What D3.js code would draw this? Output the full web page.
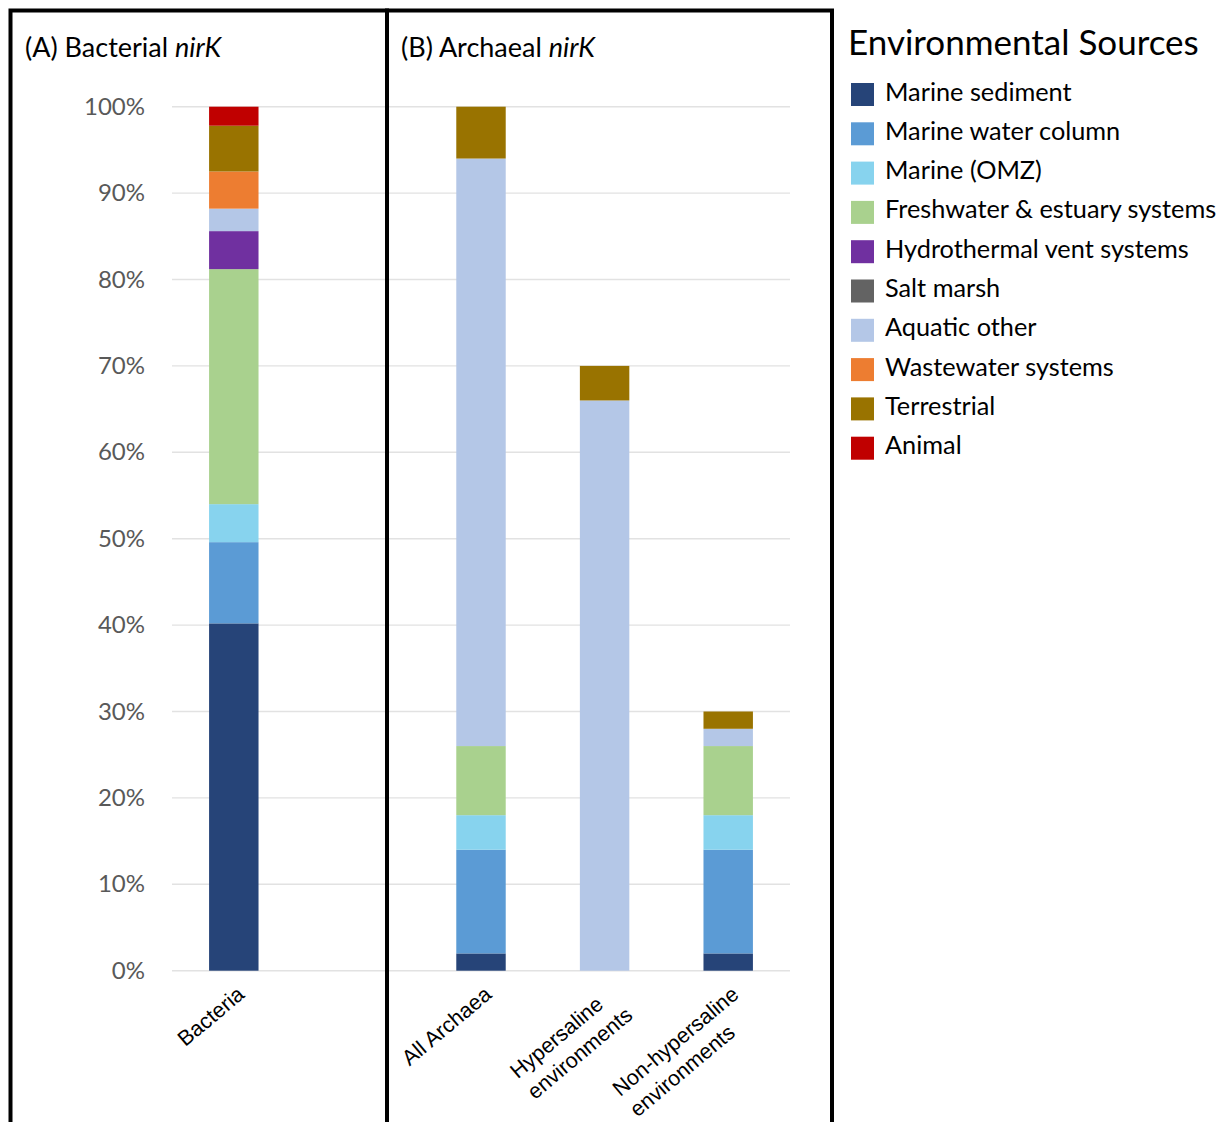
<!DOCTYPE html>
<html>
<head>
<meta charset="utf-8">
<script src="https://cdn.jsdelivr.net/npm/d3@7"></script>
<style>
  html, body { margin: 0; padding: 0; background: #fff; }
  svg { display: block; }
</style>
</head>
<body>
<svg id="chart" width="1218" height="1122"></svg>
<script>
// Categories along the x axis (one empty slot separates the two panels)
const categories = ["Bacteria", "gap", "All Archaea", "Hypersaline", "Non-hypersaline"];
const categoryLabels = [["Bacteria"], [], ["All Archaea"], ["Hypersaline", "environments"], ["Non-hypersaline", "environments"]];

// Environmental sources (stack order, bottom to top)
const sources = [
  "Marine sediment", "Marine water column", "Marine (OMZ)", "Freshwater & estuary systems",
  "Hydrothermal vent systems", "Salt marsh", "Aquatic other", "Wastewater systems",
  "Terrestrial", "Animal"
];
const sourceColors = [
  "#264478", "#5b9bd5", "#87d3ee", "#a9d18e",
  "#7030a0", "#636363", "#b4c7e7", "#ed7d31",
  "#997300", "#c00000"
];

// Percent of sequences per source, one value per category
const marineSediment    = [40.2, 0, 2, 0, 2];
const marineWaterColumn = [9.4, 0, 12, 0, 12];
const marineOMZ         = [4.4, 0, 4, 0, 4];
const freshwater        = [27.2, 0, 8, 0, 8];
const hydrothermal      = [4.4, 0, 0, 0, 0];
const saltMarsh         = [0, 0, 0, 0, 0];
const aquaticOther      = [2.6, 0, 68, 66, 2];
const wastewater        = [4.3, 0, 0, 0, 0];
const terrestrial       = [5.3, 0, 6, 4, 2];
const animal            = [2.2, 0, 0, 0, 0];

const yTicks = [0, 10, 20, 30, 40, 50, 60, 70, 80, 90, 100];

const seriesValues = [marineSediment, marineWaterColumn, marineOMZ, freshwater,
  hydrothermal, saltMarsh, aquaticOther, wastewater, terrestrial, animal];

const rows = categories.map((c, i) => {
  const r = { category: c };
  sources.forEach((s, k) => { r[s] = seriesValues[k][i]; });
  return r;
});

const svg = d3.select("#chart");
const sansUI = "Lato, 'Open Sans', sans-serif";
const sansAx = "'Liberation Sans', Arial, sans-serif";

const plot = { left: 172, right: 790, top: 106.7, bottom: 970.7 };

const x = d3.scaleBand()
  .domain(categories)
  .range([plot.left, plot.right])
  .paddingInner(0.6)
  .paddingOuter(0.3);

const y = d3.scaleLinear()
  .domain([0, 100])
  .range([plot.bottom, plot.top]);

// Gridlines
svg.append("g")
  .selectAll("line")
  .data(yTicks)
  .join("line")
  .attr("x1", plot.left)
  .attr("x2", plot.right)
  .attr("y1", d => y(d))
  .attr("y2", d => y(d))
  .attr("stroke", "#e2e2e2")
  .attr("stroke-width", 1.4);

// Y axis labels
const yAxis = d3.axisLeft(y)
  .tickValues(yTicks)
  .tickFormat(d => d + "%")
  .tickSize(0)
  .tickPadding(0);
const yAxisG = svg.append("g")
  .attr("transform", "translate(145,0)")
  .call(yAxis);
yAxisG.select(".domain").remove();
yAxisG.selectAll("text")
  .attr("font-family", sansUI)
  .attr("font-size", 24)
  .attr("fill", "#595959");

// Stacked bars
const stacked = d3.stack().keys(sources)(rows);
svg.append("g")
  .selectAll("g")
  .data(stacked)
  .join("g")
  .attr("fill", (d, i) => sourceColors[i])
  .selectAll("rect")
  .data(d => d)
  .join("rect")
  .attr("x", d => x(d.data.category))
  .attr("width", x.bandwidth())
  .attr("y", d => y(d[1]))
  .attr("height", d => y(d[0]) - y(d[1]));

// Rotated category labels: lines start-aligned, block's top-right corner near the tick
const labelSize = 21.5;
const lineH = 27;
const labelAngle = -40;
const labelG = svg.append("g")
  .attr("font-family", sansAx)
  .attr("font-size", labelSize)
  .attr("fill", "#000");
categories.forEach((c, i) => {
  const lines = categoryLabels[i];
  if (!lines.length) return;
  const cx = x(c) + x.bandwidth() / 2;
  const g = labelG.append("g")
    .attr("transform", `translate(${cx + 2},${plot.bottom + 14}) rotate(${labelAngle})`);
  const t = g.append("text").attr("text-anchor", "start");
  lines.forEach((ln, k) => {
    t.append("tspan").attr("x", 0).attr("y", k * lineH + labelSize * 0.72).text(ln);
  });
  const w = t.node().getBBox().width;
  t.attr("transform", `translate(${-w},0)`);
});

// Panel frames
const frame = svg.append("g")
  .attr("fill", "none")
  .attr("stroke", "#000")
  .attr("stroke-width", 4);
frame.append("rect").attr("x", 10.5).attr("y", 10.5).attr("width", 376.5).attr("height", 1140);
frame.append("rect").attr("x", 387).attr("y", 10.5).attr("width", 445).attr("height", 1140);

// Panel titles
const titles = [{ x: 25, pre: "(A) Bacterial " }, { x: 401, pre: "(B) Archaeal " }];
titles.forEach(tl => {
  const t = svg.append("text")
    .attr("x", tl.x)
    .attr("y", 57)
    .attr("font-family", sansUI)
    .attr("font-size", 27)
    .attr("fill", "#000");
  t.append("tspan").text(tl.pre);
  t.append("tspan").attr("font-style", "italic").text("nirK");
});

// Legend
const legend = svg.append("g").attr("transform", "translate(848,0)");
legend.append("text")
  .attr("x", 0)
  .attr("y", 55)
  .attr("font-family", sansUI)
  .attr("font-size", 35)
  .attr("fill", "#000")
  .text("Environmental Sources");
const item = legend.selectAll("g.item")
  .data(sources)
  .join("g")
  .attr("class", "item")
  .attr("transform", (d, i) => `translate(0,${94.5 + i * 39.3})`);
item.append("rect")
  .attr("x", 3)
  .attr("y", -11.5)
  .attr("width", 23)
  .attr("height", 23)
  .attr("fill", (d, i) => sourceColors[i]);
item.append("text")
  .attr("x", 37)
  .attr("y", 6)
  .attr("font-family", sansUI)
  .attr("font-size", 25.3)
  .attr("fill", "#000")
  .text(d => d);
</script>
</body>
</html>
